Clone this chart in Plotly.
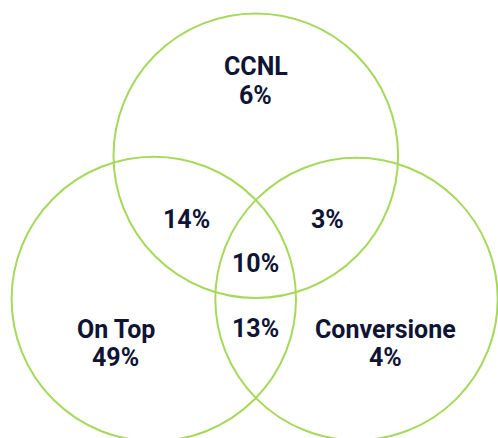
import plotly.graph_objects as go

# Venn diagram: share of contracts by type and their overlaps
set_names = ["CCNL", "On Top", "Conversione"]
set_only_pct = [6, 49, 4]
overlap_names = ["CCNL ∩ On Top", "CCNL ∩ Conversione", "CCNL ∩ On Top ∩ Conversione", "On Top ∩ Conversione"]
overlap_pct = [14, 3, 10, 13]

W, H = 498, 438
LINE = "#a6d95b"
INK = "#0f1434"
FONT = "Roboto"
SIZE = 25

# circle geometry in pixel-like coordinates (y grows downward)
circles = [(255.8, 155.7, 142.3), (153.8, 299.0, 142.2), (356.5, 299.0, 141.2)]
# label anchors: (x, y of name, y of value)
set_label_pos = [(255.5, 66.5, 95.0), (115.5, 329.0, 357.5), (385.5, 329.0, 357.5)]
overlap_label_pos = [(186.7, 219.7), (327.2, 219.7), (255.5, 263.3), (255.5, 328.0)]

fig = go.Figure()

shapes = []
for cx, cy, r in circles:
    shapes.append(dict(
        type="circle", xref="x", yref="y",
        x0=cx - r, x1=cx + r, y0=cy - r, y1=cy + r,
        line=dict(color=LINE, width=2), fillcolor="rgba(0,0,0,0)",
    ))

label_font = dict(family=FONT, size=SIZE, color=INK, weight="bold")

annotations = []
for name, pct, (x, yn, yv) in zip(set_names, set_only_pct, set_label_pos):
    annotations.append(dict(x=x, y=yn, text=name, showarrow=False,
                            xanchor="center", yanchor="middle", font=label_font))
    annotations.append(dict(x=x, y=yv, text=f"{pct}%", showarrow=False,
                            xanchor="center", yanchor="middle", font=label_font))
for pct, (x, y) in zip(overlap_pct, overlap_label_pos):
    annotations.append(dict(x=x, y=y, text=f"{pct}%", showarrow=False,
                            xanchor="center", yanchor="middle", font=label_font))

fig.update_layout(
    width=W, height=H,
    margin=dict(l=0, r=0, t=0, b=0),
    paper_bgcolor="white", plot_bgcolor="white",
    showlegend=False,
    shapes=shapes,
    annotations=annotations,
    xaxis=dict(range=[0, W], visible=False, fixedrange=True),
    yaxis=dict(range=[H, 0], visible=False, fixedrange=True),
)

fig.write_html("out.html", config={"displayModeBar": False})
